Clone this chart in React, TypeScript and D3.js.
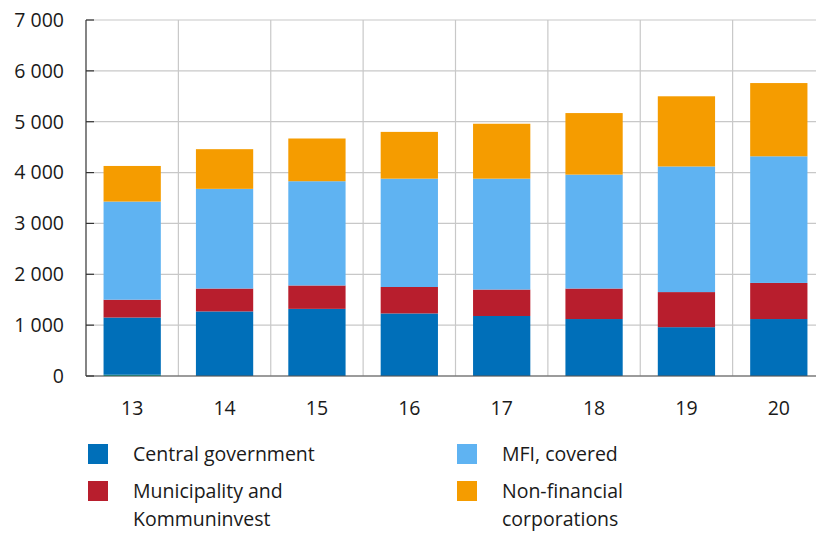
import * as d3 from 'd3'

const categories = ['13', '14', '15', '16', '17', '18', '19', '20']
const other = [25, 0, 0, 0, 0, 0, 0, 0]
const centralGov = [1125, 1270, 1320, 1230, 1180, 1120, 960, 1120]
const municipality = [350, 450, 460, 520, 520, 600, 690, 710]
const mfiCovered = [1930, 1960, 2050, 2130, 2180, 2240, 2470, 2490]
const nonFinancial = [700, 780, 840, 920, 1080, 1210, 1380, 1440]
const yTicks = [0, 1000, 2000, 3000, 4000, 5000, 6000, 7000]

const seriesKeys = ['other', 'central', 'muni', 'mfi', 'nfc']
const colors: Record<string, string> = {
  other: '#00a28c',
  central: '#006fb9',
  muni: '#b81e2d',
  mfi: '#5fb3f2',
  nfc: '#f59c00',
}
const legend = [
  { key: 'central', lines: ['Central government'], x: 88, y: 444 },
  { key: 'muni', lines: ['Municipality and', 'Kommuninvest'], x: 88, y: 481 },
  { key: 'mfi', lines: ['MFI, covered'], x: 457, y: 444 },
  { key: 'nfc', lines: ['Non-financial', 'corporations'], x: 457, y: 481 },
]

const W = 816
const H = 533
const font = '"Open Sans", Lato, sans-serif'

export default function App() {
  const rows = categories.map((c, i) => ({
    cat: c,
    other: other[i],
    central: centralGov[i],
    muni: municipality[i],
    mfi: mfiCovered[i],
    nfc: nonFinancial[i],
  }))
  const stack = d3.stack<any>().keys(seriesKeys)(rows)

  const x = d3.scaleBand().domain(categories).range([86, 825]).paddingInner(0.38).paddingOuter(0.19)
  const step = x.step()
  const y = d3.scaleLinear().domain([0, 7000]).range([376, 20])

  return (
    <svg width={W} height={H} style={{ position: 'absolute', left: 0, top: 0 }} fontFamily={font}>
      {/* horizontal grid */}
      {yTicks.map(t => (
        <line key={'h' + t} x1={86} x2={W} y1={y(t)} y2={y(t)} stroke="#c8c8c8" strokeWidth={1.2} />
      ))}
      {/* vertical grid between categories */}
      {categories.slice(1).map(c => (
        <line key={'v' + c} x1={x(c)! - (step - x.bandwidth()) / 2} x2={x(c)! - (step - x.bandwidth()) / 2}
          y1={20} y2={376} stroke="#c8c8c8" strokeWidth={1.2} />
      ))}
      {stack.map(s => (
        <g key={s.key} fill={colors[s.key]}>
          {s.map((d, i) => (
            d[1] - d[0] > 0 ? (
              <rect key={i} x={x(categories[i])} width={x.bandwidth()} y={y(d[1])}
                height={y(d[0]) - y(d[1])} />
            ) : null
          ))}
        </g>
      ))}
      {/* axes */}
      <line x1={86} x2={86} y1={20} y2={376} stroke="#333" strokeWidth={1.2} />
      <line x1={86} x2={W} y1={376} y2={376} stroke="#555" strokeWidth={1.2} />
      {yTicks.map(t => (
        <g key={'t' + t}>
          <line x1={86} x2={94} y1={y(t)} y2={y(t)} stroke="#333" strokeWidth={1.2} />
          <text x={64} y={y(t)} dy="0.35em" textAnchor="end" fontSize={19.5} fill="#1a1a1a">
            {d3.format(',')(t).replace(/,/g, ' ')}
          </text>
        </g>
      ))}
      {categories.map(c => (
        <text key={'x' + c} x={x(c)! + x.bandwidth() / 2} y={408} dy="0.35em" textAnchor="middle"
          fontSize={19.5} fill="#1a1a1a">{c}</text>
      ))}
      {legend.map(l => (
        <g key={l.key}>
          <rect x={l.x} y={l.y} width={20} height={20} fill={colors[l.key]} />
          {l.lines.map((ln, j) => (
            <text key={j} x={l.x + 45} y={l.y + 10 + j * 28} dy="0.35em" fontSize={19.5} fill="#1a1a1a">{ln}</text>
          ))}
        </g>
      ))}
    </svg>
  )
}
